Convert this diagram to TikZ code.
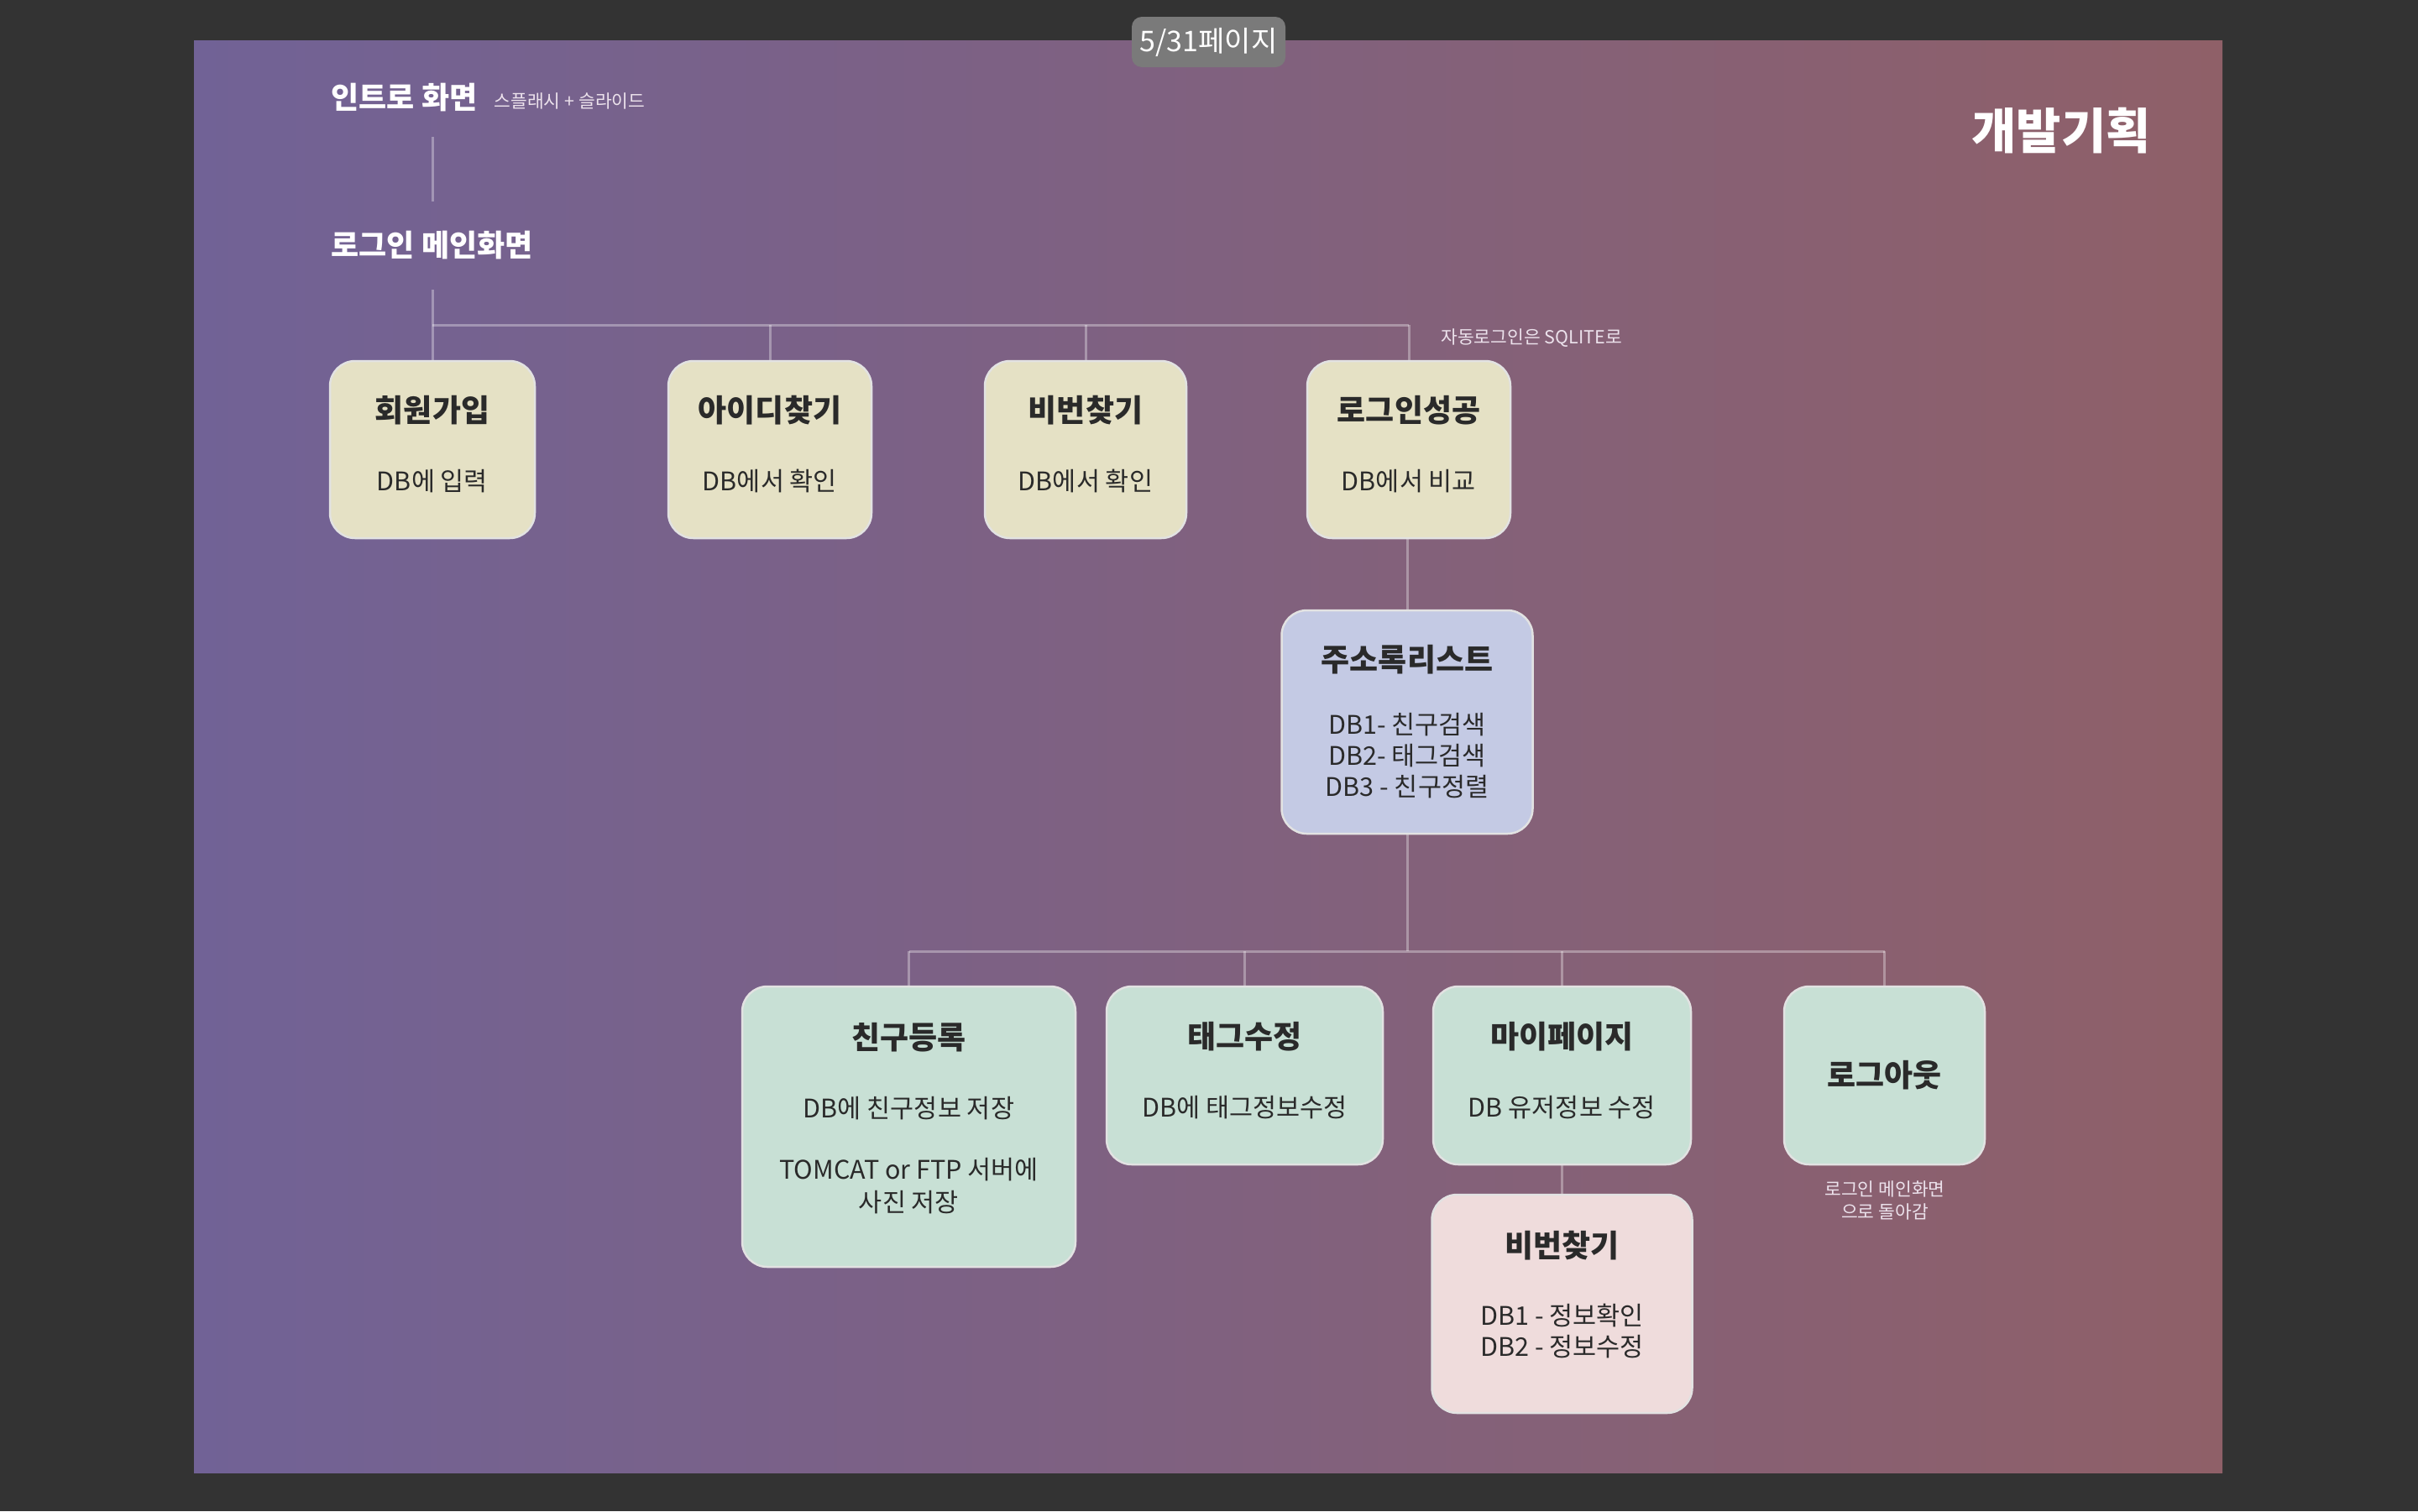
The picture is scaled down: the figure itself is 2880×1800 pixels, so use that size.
\documentclass[tikz,border=0pt]{standalone}
\usepackage{fontspec}
\setmainfont{Noto Sans CJK KR}
\usetikzlibrary{calc}
\definecolor{bgdark}{HTML}{333333}
\definecolor{slideL}{HTML}{716296}
\definecolor{slideR}{HTML}{8F6068}
\definecolor{beige}{HTML}{E5E1C5}
\definecolor{bluebox}{HTML}{C4CAE4}
\definecolor{greenbox}{HTML}{C8E0D5}
\definecolor{pinkbox}{HTML}{EFDCDC}
\definecolor{boxline}{HTML}{E2E2E2}
\definecolor{textdark}{HTML}{2A2A2A}
\definecolor{notecol}{HTML}{ECE2EC}
\definecolor{badgegray}{HTML}{7A7A7A}
\newcommand\titlefont{\fontsize{37}{37}\selectfont\bfseries}
\newcommand\lift[1]{\rule[-#1]{0pt}{#1}}
\pgfdeclarelayer{back}
\pgfdeclarelayer{bg}
\pgfsetlayers{back,bg,main}
\begin{document}
\begin{tikzpicture}[x=1pt,y=-1pt,
  box/.style={draw=boxline, line width=2.5pt, rounded corners=30pt, inner sep=0pt,
    align=center, text=textdark, font=\fontsize{30.5}{37}\selectfont},
  conn/.style={draw=white, draw opacity=0.33, line width=3pt},
  heading/.style={inner sep=0pt, text=white, font=\fontsize{36}{40}\selectfont\bfseries},
  note/.style={inner sep=0pt, text=notecol, align=center, font=\fontsize{21.5}{27}\selectfont}]
\useasboundingbox (0,0) rectangle (2880,1800);
\begin{pgfonlayer}{back}
\fill[bgdark] (0,0) rectangle (2880,1800);
\shade[left color=slideL, right color=slideR] (231,48) rectangle (2647,1754);
\end{pgfonlayer}

% badge
\node[fill=badgegray, rounded corners=12pt, minimum width=183pt, minimum height=60pt,
  inner sep=0pt, text=white, font=\fontsize{34}{36}\selectfont] (badge) at (1439.5,50) {5/31페이지};

% headings
\node[heading] (intro) at (481.5,116) {인트로 화면};
\node[note] (splash) at (678.5,120.5) {스플래시 + 슬라이드};
\node[heading] (loginmain) at (514.5,292) {로그인 메인화면};
\node[inner sep=0pt, text=white, font=\fontsize{58}{62}\selectfont\bfseries] (title) at (2455,156) {개발기획};
\node[note, anchor=west] (autologin) at (1716,402.5) {자동로그인은 SQLITE로};

% top row
\node[box, fill=beige, minimum width=244pt, minimum height=211pt] (b1) at (515,535.5)
  {{\titlefont 회원가입}\\[45pt]DB에 입력\lift{16pt}};
\node[box, fill=beige, minimum width=242pt, minimum height=211pt] (b2) at (917,535.5)
  {{\titlefont 아이디찾기}\\[45pt]DB에서 확인\lift{16pt}};
\node[box, fill=beige, minimum width=240pt, minimum height=211pt] (b3) at (1293,535.5)
  {{\titlefont 비번찾기}\\[45pt]DB에서 확인\lift{16pt}};
\node[box, fill=beige, minimum width=242pt, minimum height=211pt] (b4) at (1678,535.5)
  {{\titlefont 로그인성공}\\[45pt]DB에서 비교\lift{16pt}};

% address list
\node[box, fill=bluebox, minimum width=299pt, minimum height=266pt] (addr) at (1676,860)
  {{\titlefont 주소록리스트}\\[38pt]DB1- 친구검색\\DB2- 태그검색\\DB3 - 친구정렬};

% bottom row
\node[box, fill=greenbox, minimum width=397pt, minimum height=334pt] (c1) at (1082.5,1342)
  {{\titlefont 친구등록}\\[45pt]DB에 친구정보 저장\\[36pt]TOMCAT or FTP 서버에\\[2pt]사진 저장\lift{22pt}};
\node[box, fill=greenbox, minimum width=329pt, minimum height=212pt] (c2) at (1482.5,1281)
  {{\titlefont 태그수정}\\[45pt]DB에 태그정보수정\lift{14pt}};
\node[box, fill=greenbox, minimum width=307pt, minimum height=212pt] (c3) at (1860.5,1281)
  {{\titlefont 마이페이지}\\[45pt]DB 유저정보 수정\lift{14pt}};
\node[box, fill=greenbox, minimum width=239pt, minimum height=212pt] (c4) at (2244.5,1281)
  {{\titlefont 로그아웃}};
\node[note] (logoutnote) at (2245,1430) {로그인 메인화면\\으로 돌아감};

\node[box, fill=pinkbox, minimum width=310pt, minimum height=260pt] (p1) at (1860.5,1553)
  {{\titlefont 비번찾기}\\[44pt]DB1 - 정보확인\\DB2 - 정보수정\lift{25pt}};

\coordinate (bus1) at (0,387);
\coordinate (bus2) at (0,1133);

\begin{pgfonlayer}{bg}
\draw[conn] ($(b1.north |- intro.south)+(0,30)$) -- ($(b1.north |- loginmain.north)+(0,-35)$);
\draw[conn] ($(b1.north |- loginmain.south)+(0,36)$) -- (b1.north);
\draw[conn] (b1.north |- bus1) -- (b4.north |- bus1);
\foreach \n in {b2,b3,b4} \draw[conn] (\n.north |- bus1) -- (\n.north);
\draw[conn] (addr.north |- b4.south) -- (addr.north);
\draw[conn] (addr.south) -- (addr.south |- bus2);
\draw[conn] (c1.north |- bus2) -- (c4.north |- bus2);
\foreach \n in {c1,c2,c3,c4} \draw[conn] (\n.north |- bus2) -- (\n.north);
\draw[conn] (c3.south) -- (p1.north);
\end{pgfonlayer}
\end{tikzpicture}
\end{document}
